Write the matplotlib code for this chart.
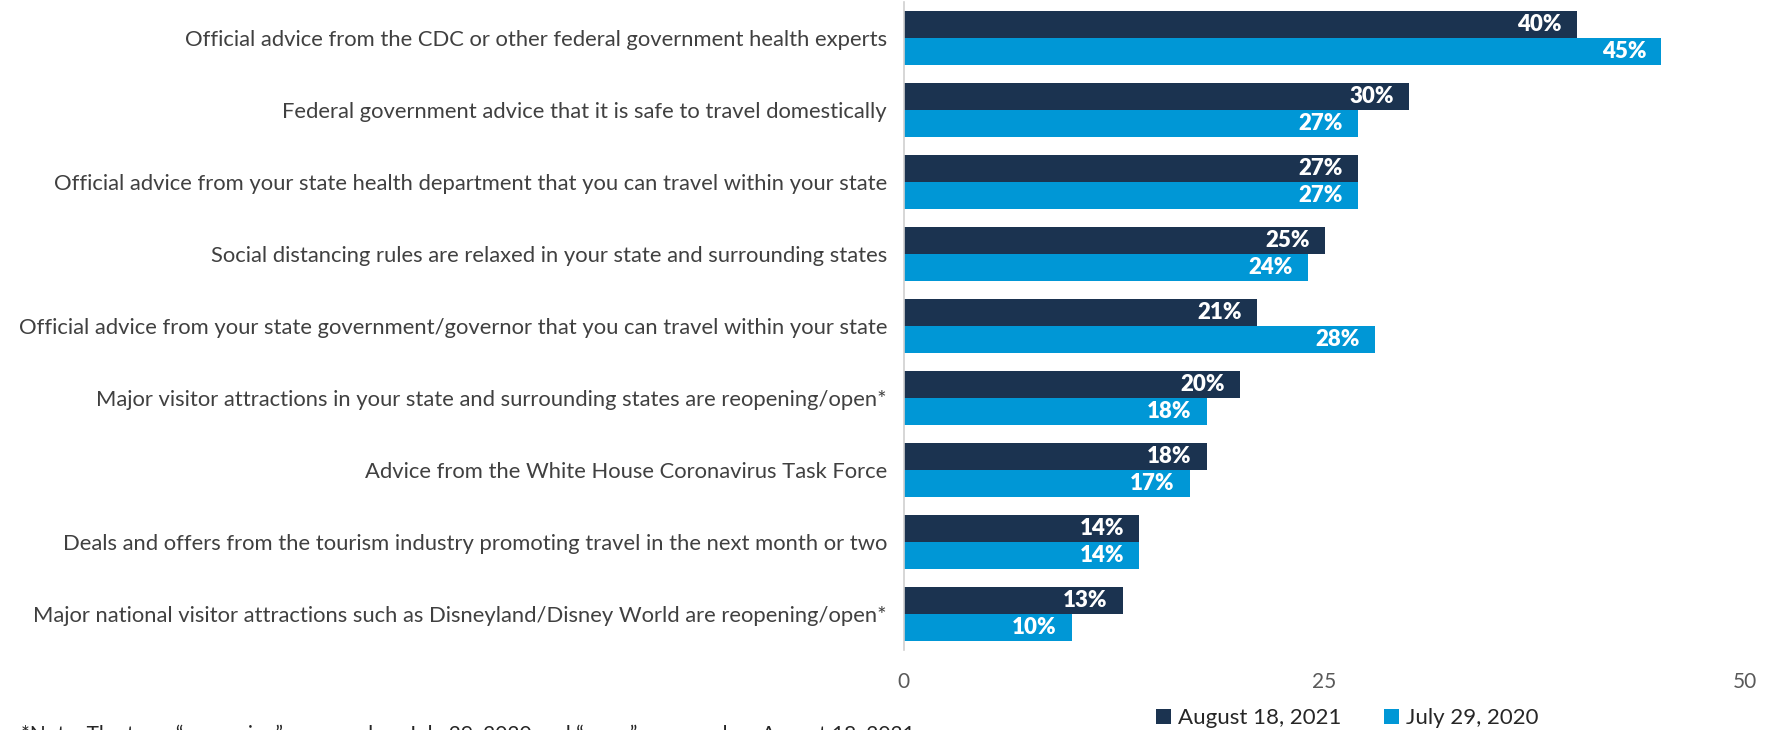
import matplotlib.pyplot as plt
import numpy as np

plt.rcParams['font.family'] = ['Lato', 'DejaVu Sans']

# survey items, top to bottom
items = [
    "Official advice from the CDC or other federal government health experts",
    "Federal government advice that it is safe to travel domestically",
    "Official advice from your state health department that you can travel within your state",
    "Social distancing rules are relaxed in your state and surrounding states",
    "Official advice from your state government/governor that you can travel within your state",
    "Major visitor attractions in your state and surrounding states are reopening/open*",
    "Advice from the White House Coronavirus Task Force",
    "Deals and offers from the tourism industry promoting travel in the next month or two",
    "Major national visitor attractions such as Disneyland/Disney World are reopening/open*",
]
aug_2021 = [40, 30, 27, 25, 21, 20, 18, 14, 13]
jul_2020 = [45, 27, 27, 24, 28, 18, 17, 14, 10]
series_names = ["August 18, 2021", "July 29, 2020"]
xticks = [0, 25, 50]

NAVY = "#1b3350"
BLUE = "#0097d6"

fig = plt.figure(figsize=(17.72, 7.30), dpi=100)
ax = fig.add_axes([0.510, 0.110, 0.475, 0.887])

y = np.arange(len(items))
h = 0.375
b1 = ax.barh(y - h/2, aug_2021, height=h, color=NAVY, label=series_names[0])
b2 = ax.barh(y + h/2, jul_2020, height=h, color=BLUE, label=series_names[1])

for bars, vals in ((b1, aug_2021), (b2, jul_2020)):
    for rect, v in zip(bars, vals):
        ax.text(v - 0.9, rect.get_y() + rect.get_height()/2, f"{v}%",
                ha='right', va='center', color='white', fontsize=16,
                fontweight='heavy')

ax.set_xlim(0, 50)
ax.set_ylim(len(items) - 0.5, -0.5)
ax.set_yticks(y)
ax.set_yticklabels(items, fontsize=15.8, color='#404040')
ax.set_xticks(xticks)
ax.set_xticklabels([str(t) for t in xticks], fontsize=15, color='#595959')
ax.tick_params(axis='y', length=0, pad=12)
ax.tick_params(axis='x', length=0, pad=16)

for s in ('top', 'right', 'bottom'):
    ax.spines[s].set_visible(False)
ax.spines['left'].set_color('#d0d0d0')
ax.spines['left'].set_linewidth(1.2)

leg = fig.legend(handles=[b1, b2], loc='center left', bbox_to_anchor=(0.641, 0.016),
                 ncol=2, frameon=False, fontsize=16, handlelength=0.7,
                 handleheight=0.7, handletextpad=0.3, columnspacing=1.9)
for t in leg.get_texts():
    t.set_color('#262626')

# footnote sits at the very bottom edge of the figure
fig.text(0.012, 0.008,
         "*Note: The term \u201creopening\u201d was used on July 29, 2020 and \u201copen\u201d was used on August 18, 2021",
         ha='left', va='top', fontsize=15, color='#262626')

fig.savefig("out.png", dpi=100)
